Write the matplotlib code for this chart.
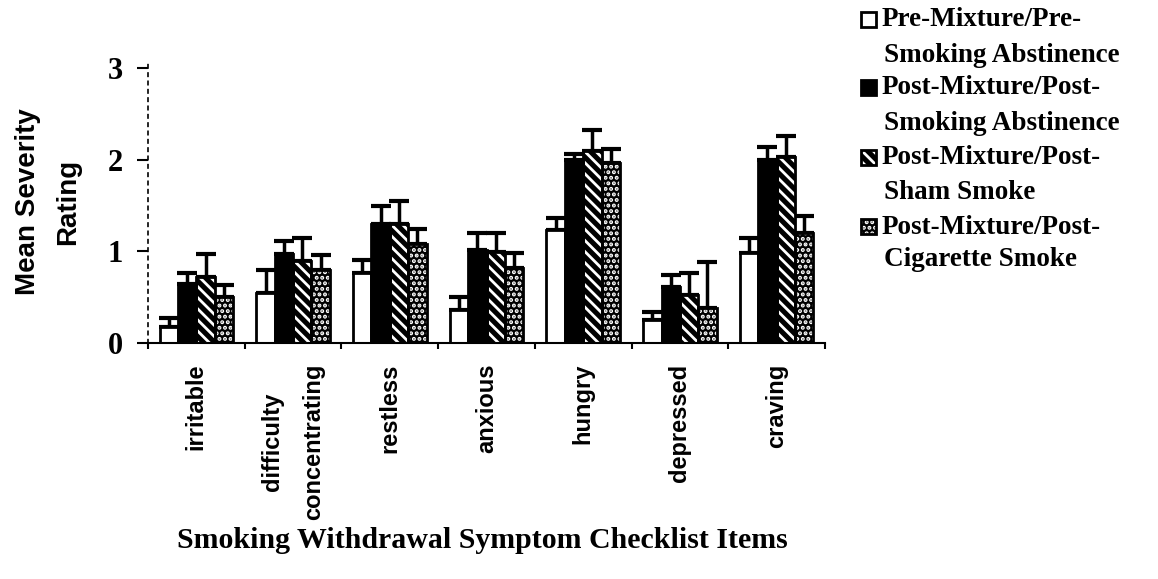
import matplotlib
matplotlib.use("Agg")
import matplotlib.pyplot as plt
import numpy as np
from matplotlib.patches import Rectangle

categories = ["irritable", "difficulty\nconcentrating", "restless", "anxious",
              "hungry", "depressed", "craving"]
series_names = ["Pre-Mixture/Pre-\nSmoking Abstinence",
                "Post-Mixture/Post-\nSmoking Abstinence",
                "Post-Mixture/Post-\nSham Smoke",
                "Post-Mixture/Post-\nCigarette Smoke"]
pre_abst = [0.17, 0.55, 0.76, 0.36, 1.24, 0.25, 0.98]
post_abst = [0.65, 0.97, 1.30, 1.02, 2.00, 0.61, 2.00]
post_sham = [0.72, 0.90, 1.30, 0.99, 2.10, 0.52, 2.03]
post_cig = [0.50, 0.80, 1.08, 0.82, 1.97, 0.38, 1.20]
pre_abst_err = [0.10, 0.25, 0.15, 0.14, 0.13, 0.09, 0.17]
post_abst_err = [0.12, 0.14, 0.20, 0.18, 0.07, 0.13, 0.14]
post_sham_err = [0.25, 0.25, 0.25, 0.21, 0.23, 0.24, 0.23]
post_cig_err = [0.13, 0.16, 0.17, 0.16, 0.15, 0.51, 0.19]
yticks = [0, 1, 2, 3]

SERIF = ['Liberation Serif', 'DejaVu Serif']
SANS = ['Liberation Sans', 'DejaVu Sans']
plt.rcParams['font.family'] = SERIF
plt.rcParams['hatch.linewidth'] = 2.0

W, H = 1158, 579
fig = plt.figure(figsize=(W / 100, H / 100), dpi=100)
ax = fig.add_axes([148 / W, 1 - 343 / H, (825 - 148) / W, (343 - 62) / H])

values = [pre_abst, post_abst, post_sham, post_cig]
errs = [pre_abst_err, post_abst_err, post_sham_err, post_cig_err]
styles = [dict(facecolor='white', edgecolor='black', hatch=None),
          dict(facecolor='black', edgecolor='black', hatch=None),
          dict(facecolor='black', edgecolor='white', hatch='\\\\\\'),
          dict(facecolor='black', edgecolor='white', hatch='...')]

x = np.arange(len(categories))
w = 0.19
offsets = (np.arange(4) - 1.5) * w
for vals, er, st, off in zip(values, errs, styles, offsets):
    ax.bar(x + off, vals, w, facecolor=st['facecolor'], edgecolor=st['edgecolor'],
           hatch=st['hatch'], linewidth=0, zorder=2)
    ax.bar(x + off, vals, w, fill=False, edgecolor='black', linewidth=2, zorder=3)
    ax.errorbar(x + off, vals, yerr=[np.zeros(len(vals)), er], fmt='none',
                ecolor='black', elinewidth=2.5, capsize=7, capthick=3, zorder=1)

ax.set_xlim(-0.5, len(categories) - 0.5)
ax.set_ylim(0, 3.07)
ax.set_yticks(yticks)
ax.set_yticklabels([str(t) for t in yticks], fontsize=22, fontweight='bold')
ax.set_xticks(x)
ax.set_xticklabels(categories, rotation=90, fontsize=17, fontweight='bold',
                   family=SANS, va='top', ha='center', multialignment='center',
                   linespacing=2.0)
ax.set_xticks(np.arange(len(categories) + 1) - 0.5, minor=True)
ax.tick_params(axis='x', which='major', length=0, pad=15)
ax.tick_params(axis='x', which='minor', length=4, width=1.5, direction='out')
ax.tick_params(axis='y', length=8, width=1.5, direction='out', pad=10)

for s in ['top', 'right']:
    ax.spines[s].set_visible(False)
ax.spines['left'].set_linestyle((0, (2, 3)))
ax.spines['left'].set_linewidth(1.2)
ax.spines['bottom'].set_linewidth(1.5)

fig.text(48 / W, 1 - 202 / H, "Mean Severity\nRating", rotation=90, fontsize=20,
         fontweight='bold', family=SANS, ha='center', va='center',
         multialignment='center', linespacing=1.7)
fig.text(482 / W, 1 - 540 / H, "Smoking Withdrawal Symptom Checklist Items",
         fontsize=21.5, fontweight='bold', ha='center', va='center')

# legend drawn manually: handle aligned with first line of each label
line_y = [20, 55, 88, 123, 158, 193, 227, 260]
for i, (name, st) in enumerate(zip(series_names, styles)):
    l1, l2 = name.split("\n")
    y1, y2 = line_y[2 * i], line_y[2 * i + 1]
    fig.text(882 / W, 1 - y1 / H, l1, fontsize=19.5, fontweight='bold',
             ha='left', va='center')
    fig.text(884 / W, 1 - y2 / H, l2, fontsize=19.5, fontweight='bold',
             ha='left', va='center')
    hy = y1 - 1
    rect = Rectangle((861 / W, 1 - (hy + 8) / H), 15 / W, 15 / H,
                     transform=fig.transFigure, facecolor=st['facecolor'],
                     edgecolor=st['edgecolor'], hatch=st['hatch'], linewidth=0)
    border = Rectangle((861 / W, 1 - (hy + 8) / H), 15 / W, 15 / H,
                       transform=fig.transFigure, fill=False,
                       edgecolor='black', linewidth=2)
    fig.add_artist(rect)
    fig.add_artist(border)

fig.savefig("out.png", dpi=100)
